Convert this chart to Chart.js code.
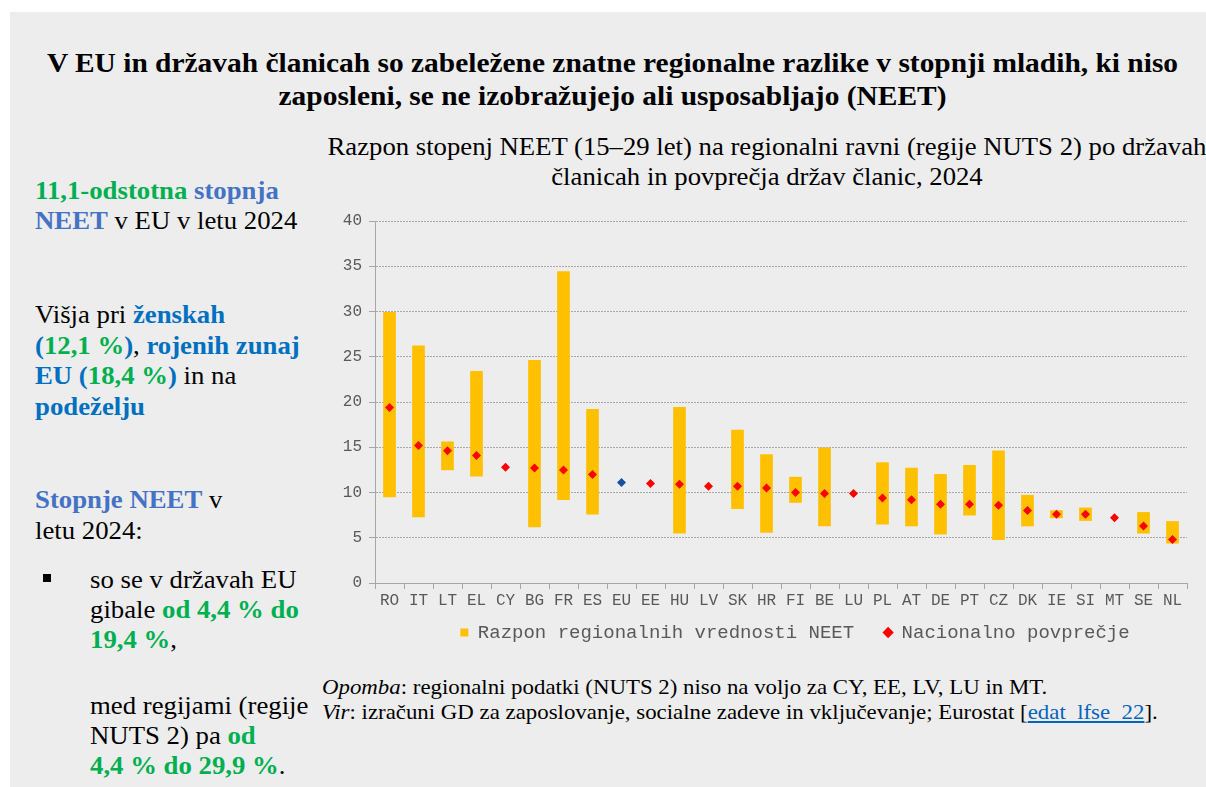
<!DOCTYPE html>
<html>
<head>
<meta charset="utf-8">
<script src="https://cdn.jsdelivr.net/npm/chart.js@4.4.1/dist/chart.umd.min.js"></script>
<style>
  html, body { margin:0; padding:0; background:#ffffff; }
  body { width:1206px; height:787px; position:relative; overflow:hidden; font-family:"Liberation Serif","Times New Roman",serif; }
  #panel { position:absolute; left:10px; top:12px; width:1196px; height:775px; background:#ededed; }
  .abs { position:absolute; white-space:nowrap; }
  #mainTitle { left:0; width:1225px; top:47px; text-align:center; font-weight:bold; font-size:27px; line-height:33px; color:#000; transform:scaleX(1.09); transform-origin:612.5px 0; }
  #chartTitle { left:267px; width:1000px; top:132px; text-align:center; font-size:25px; line-height:30px; color:#000; transform:scaleX(1.068); transform-origin:500px 0; }
  .side { left:35px; font-size:25px; line-height:30px; color:#000; transform:scaleX(1.07); transform-origin:0 0; }
  .g { color:#00b050; font-weight:bold; }
  .b1 { color:#4472c4; font-weight:bold; }
  .b2 { color:#0070c0; font-weight:bold; }
  #notes { left:322px; top:675px; font-size:21px; line-height:25px; color:#000; transform:scaleX(1.088); transform-origin:0 0; }
  #notes a { color:#0563c1; text-decoration:underline; }
  #bullet { left:43px; top:574px; width:8px; height:8px; background:#000; }
  #chartBox { position:absolute; left:320px; top:200px; width:886px; height:469px; }
</style>
</head>
<body>
<div id="panel"></div>
<div id="mainTitle" class="abs">V EU in državah članicah so zabeležene znatne regionalne razlike v stopnji mladih, ki niso<br>zaposleni, se ne izobražujejo ali usposabljajo (NEET)</div>
<div id="chartTitle" class="abs">Razpon stopenj NEET (15–29 let) na regionalni ravni (regije NUTS 2) po državah<br>članicah in povprečja držav članic, 2024</div>

<div class="abs side" style="top:176px;"><span class="g">11,1-odstotna</span> <span class="b1">stopnja<br>NEET</span> v EU v letu 2024</div>
<div class="abs side" style="top:300px;line-height:30.5px;">Višja pri <span class="b2">ženskah<br>(</span><span class="g">12,1 %</span><span class="b2">)</span>, <span class="b2">rojenih zunaj<br>EU (</span><span class="g">18,4 %</span><span class="b2">)</span> in na<br><span class="b2">podeželju</span></div>
<div class="abs side" style="top:484px;line-height:31px;"><span class="b1">Stopnje NEET</span> v<br>letu 2024:</div>
<div id="bullet" class="abs"></div>
<div class="abs side" style="left:90px;top:565px;">so se v državah EU<br>gibale <span class="g">od 4,4 % do<br>19,4 %</span>,</div>
<div class="abs side" style="left:90px;top:691px;">med regijami (regije<br>NUTS 2) pa <span class="g">od<br>4,4 % do 29,9 %</span>.</div>

<div id="notes" class="abs"><i>Opomba</i>: regionalni podatki (NUTS 2) niso na voljo za CY, EE, LV, LU in MT.<br><i>Vir</i>: izračuni GD za zaposlovanje, socialne zadeve in vključevanje; Eurostat [<a href="#">edat_lfse_22</a>].</div>

<div id="chartBox"><canvas id="c"></canvas></div>

<script>
const categories = ['RO','IT','LT','EL','CY','BG','FR','ES','EU','EE','HU','LV','SK','HR','FI','BE','LU','PL','AT','DE','PT','CZ','DK','IE','SI','MT','SE','NL'];
const regionMin = [9.5,7.3,12.5,11.8,null,6.2,9.2,7.6,null,null,5.5,null,8.2,5.6,8.9,6.3,null,6.5,6.3,5.4,7.5,4.8,6.3,7.2,6.9,null,5.5,4.4];
const regionMax = [29.9,26.2,15.6,23.4,null,24.6,34.4,19.2,null,null,19.4,null,16.9,14.2,11.7,14.9,null,13.3,12.7,12.0,13.0,14.6,9.7,8.0,8.3,null,7.8,6.8];
const nationalAvg = [19.4,15.2,14.6,14.1,12.8,12.7,12.5,12.0,11.1,11.0,10.9,10.7,10.7,10.5,10.0,9.9,9.9,9.4,9.2,8.7,8.7,8.6,8.0,7.6,7.6,7.2,6.3,4.8];
const yTicks = [0,5,10,15,20,25,30,35,40];
const seriesNames = ['Razpon regionalnih vrednosti NEET','Nacionalno povprečje'];

const rangeData = categories.map((c,i) => (regionMin[i]===null ? null : [regionMin[i], regionMax[i]]));
const pointColors = categories.map(c => c === 'EU' ? '#1a4f9c' : '#ff0000');

const tickFont = { family: '"Liberation Mono","Courier New",monospace', size: 16 };

const legendShift = {
  id: 'legendShift',
  afterLayout(chart) {
    const lg = chart.legend;
    if (lg) { lg.left += 14; lg.right += 14; lg.top -= 17; lg.bottom -= 17; }
  }
};

new Chart(document.getElementById('c'), {
  type: 'bar',
  data: {
    labels: categories,
    datasets: [
      {
        label: seriesNames[0],
        data: rangeData,
        backgroundColor: '#ffc000',
        borderWidth: 0,
        barThickness: 12,
        pointStyle: 'rect',
        order: 1
      },
      {
        type: 'line',
        label: seriesNames[1],
        data: nationalAvg,
        showLine: false,
        pointStyle: 'rectRot',
        pointRadius: 4.5,
        pointHoverRadius: 4.5,
        pointBackgroundColor: pointColors,
        pointBorderWidth: 0,
        backgroundColor: '#ff0000',
        borderColor: '#ff0000',
        borderWidth: 0,
        order: 0
      }
    ]
  },
  plugins: [legendShift],
  options: {
    responsive: true,
    maintainAspectRatio: false,
    animation: false,
    layout: { padding: { top: 21, right: 19, left: 0, bottom: 0 } },
    plugins: {
      tooltip: { enabled: false },
      legend: {
        position: 'bottom',
        fullSize: false,
        labels: {
          usePointStyle: true,
          boxWidth: 8,
          boxHeight: 8,
          padding: 30,
          color: '#595959',
          font: { family: '"Liberation Mono","Courier New",monospace', size: 19 },
          sort: (a, b) => a.datasetIndex - b.datasetIndex
        }
      }
    },
    scales: {
      x: {
        offset: true,
        grid: { drawOnChartArea: false, drawTicks: true, tickLength: 6, color: '#a6a6a6', offset: true },
        border: { display: true, color: '#a6a6a6', width: 1 },
        ticks: { color: '#595959', font: tickFont, padding: 2, maxRotation: 0, autoSkip: false },
        afterFit: (s) => { s.height = 27; }
      },
      y: {
        min: 0,
        max: 40,
        afterBuildTicks: (s) => { s.ticks = yTicks.map(v => ({ value: v })); },
        grid: { color: '#a8a8a8', lineWidth: 1, drawTicks: true, tickLength: 6, tickColor: '#a6a6a6', tickBorderDash: [] },
        border: { display: true, color: '#a6a6a6', width: 1, dash: [2, 1] },
        ticks: { color: '#595959', font: tickFont, padding: 7 },
        afterFit: (s) => { s.width = 55; }
      }
    }
  }
});
</script>
</body>
</html>
